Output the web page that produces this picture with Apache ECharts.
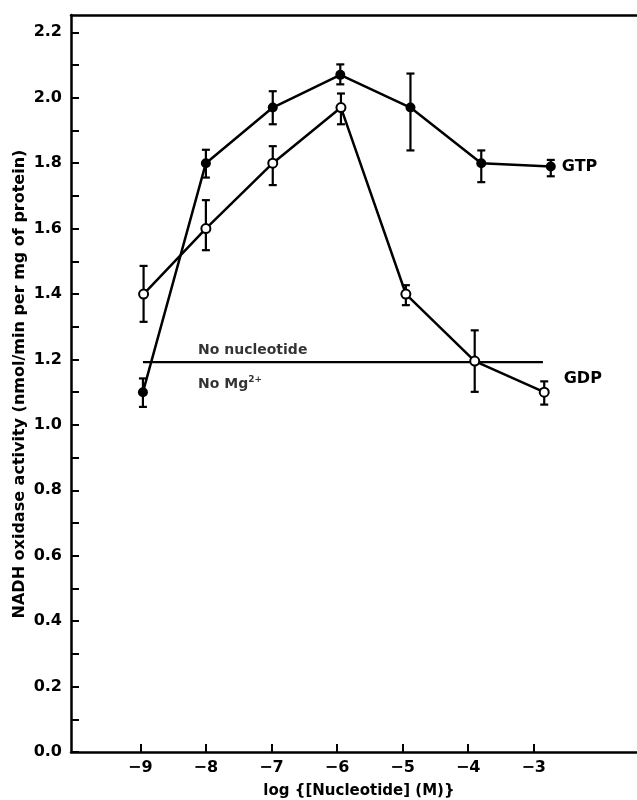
<!DOCTYPE html>
<html>
<head>
<meta charset="utf-8">
<script src="https://cdn.jsdelivr.net/npm/echarts@6/dist/echarts.min.js"></script>
<style>
html,body{margin:0;padding:0;background:#fff;overflow:hidden;}
#chart{width:637px;height:800px;}
</style>
</head>
<body>
<div id="chart"></div>
<script>
// ---- data ----
const xTickValues = [-9, -8, -7, -6, -5, -4, -3];
const yMinorTicks = [0,0.1,0.2,0.3,0.4,0.5,0.6,0.7,0.8,0.9,1.0,1.1,1.2,1.3,1.4,1.5,1.6,1.7,1.8,1.9,2.0,2.1,2.2];
const yLabelValues = [0,0.2,0.4,0.6,0.8,1.0,1.2,1.4,1.6,1.8,2.0,2.2];

const gtpX    = [-8.96, -8.00, -6.98, -5.95, -4.88, -3.80, -2.74];
const gtpY    = [1.10, 1.80, 1.97, 2.07, 1.97, 1.80, 1.79];
const gtpLow  = [1.055, 1.756, 1.919, 2.041, 1.839, 1.742, 1.760];
const gtpHigh = [1.142, 1.841, 2.020, 2.102, 2.074, 1.839, 1.810];

const gdpX    = [-8.95, -8.00, -6.98, -5.94, -4.95, -3.90, -2.84];
const gdpY    = [1.40, 1.60, 1.80, 1.97, 1.40, 1.195, 1.10];
const gdpLow  = [1.315, 1.534, 1.733, 1.919, 1.366, 1.101, 1.062];
const gdpHigh = [1.486, 1.687, 1.852, 2.013, 1.427, 1.289, 1.133];

const baselineX = [-8.96, -2.86];
const baselineY = [1.192, 1.192];

const annotations = [
  {x: -8.12, y: 1.238, text: 'No nucleotide'},
  {x: -8.12, y: 1.132, text: 'No Mg', sup: '2+'}
];

// ---- chart ----
const FONT = 'DejaVu Sans';
const chart = echarts.init(document.getElementById('chart'));

function pts(xs, ys){ return xs.map((x,i)=>[x, ys[i]]); }
function errs(xs, lo, hi){ return xs.map((x,i)=>[x, lo[i], hi[i]]); }

function errRender(params, api){
  const x = api.value(0);
  const p1 = api.coord([x, api.value(1)]);
  const p2 = api.coord([x, api.value(2)]);
  const hw = 4;
  const st = {stroke:'#000', lineWidth:2.2};
  return {type:'group', children:[
    {type:'line', shape:{x1:p1[0],y1:p1[1],x2:p2[0],y2:p2[1]}, style:st},
    {type:'line', shape:{x1:p1[0]-hw,y1:p1[1],x2:p1[0]+hw,y2:p1[1]}, style:st},
    {type:'line', shape:{x1:p2[0]-hw,y1:p2[1],x2:p2[0]+hw,y2:p2[1]}, style:st}
  ]};
}

const gtpData = pts(gtpX, gtpY).map((v,i,a)=> i===a.length-1 ? {
  value: v,
  label: {show:true, position:'right', distance:6, formatter:'GTP',
          fontFamily:FONT, fontWeight:'bold', fontSize:16, color:'#000'}
} : v);
const gdpData = pts(gdpX, gdpY).map((v,i,a)=> i===a.length-1 ? {
  value: v,
  label: {show:true, position:'right', distance:6, offset:[8,-13], formatter:'GDP',
          fontFamily:FONT, fontWeight:'bold', fontSize:16, color:'#000'}
} : v);

chart.setOption({
  animation:false,
  backgroundColor:'#fff',
  grid:{left:71, top:15, right:0, bottom:48},
  xAxis:[{
    type:'value', min:-10.057, max:-1.425,
    axisLine:{show:true, onZero:false, lineStyle:{color:'#000', width:2.5}},
    axisTick:{show:true, inside:true, length:8, lineStyle:{color:'#000', width:2}, customValues:xTickValues},
    axisLabel:{show:true, customValues:xTickValues, margin:8, color:'#000', fontFamily:FONT, fontWeight:'bold', fontSize:16,
      formatter:v=> String(v).replace('-', '\u2212')},
    splitLine:{show:false}
  },{
    type:'value', position:'top', min:-10.057, max:-1.425,
    axisLine:{show:true, onZero:false, lineStyle:{color:'#000', width:2.5}},
    axisTick:{show:false}, axisLabel:{show:false}, splitLine:{show:false}
  }],
  yAxis:{
    type:'value', min:0, max:2.253,
    axisLine:{show:true, onZero:false, lineStyle:{color:'#000', width:2.5}},
    axisTick:{show:true, inside:true, length:8, lineStyle:{color:'#000', width:2}, customValues:yMinorTicks},
    axisLabel:{show:true, customValues:yLabelValues, margin:9, color:'#000', fontFamily:FONT, fontWeight:'bold', fontSize:16,
      formatter:v=> Number(v).toFixed(1)},
    splitLine:{show:false}
  },
  graphic:[
    {type:'text', x:359, y:791,
     style:{text:'log {[Nucleotide] (M)}', font:'bold 15px "DejaVu Sans"', fill:'#000', align:'center', verticalAlign:'middle'}},
    {type:'text', x:20, y:384, rotation:Math.PI/2,
     style:{text:'NADH oxidase activity (nmol/min per mg of protein)', font:'bold 16px "DejaVu Sans"', fill:'#000', align:'center', verticalAlign:'middle'}}
  ],
  series:[
    {type:'line', data:pts(baselineX, baselineY), symbol:'none', lineStyle:{color:'#000', width:2.2}, z:1, silent:true},
    {type:'custom', data:errs(gtpX, gtpLow, gtpHigh), renderItem:errRender, z:2, silent:true},
    {type:'custom', data:errs(gdpX, gdpLow, gdpHigh), renderItem:errRender, z:2, silent:true},
    {type:'line', name:'GTP', data:gtpData, symbol:'circle', symbolSize:10, showAllSymbol:true,
     itemStyle:{color:'#000'}, lineStyle:{color:'#000', width:2.5}, z:3},
    {type:'line', name:'GDP', data:gdpData, symbol:'circle', symbolSize:9, showAllSymbol:true,
     itemStyle:{color:'#fff', borderColor:'#000', borderWidth:2}, lineStyle:{color:'#000', width:2.5}, z:4},
    {type:'scatter', data:annotations.map(a=>({value:[a.x,a.y], text:a.text, sup:a.sup||''})),
     symbolSize:0, silent:true, z:5,
     label:{show:true, position:'right', distance:0, color:'#000', fontFamily:FONT, fontWeight:'bold',
       formatter:p=> p.data.sup ? '{a|'+p.data.text+'}{s|'+p.data.sup+'}' : '{a|'+p.data.text+'}',
       rich:{
         a:{fontSize:14, fontFamily:FONT, fontWeight:'bold', color:'#000', verticalAlign:'bottom', lineHeight:20},
         s:{fontSize:9, fontFamily:FONT, fontWeight:'bold', color:'#000', verticalAlign:'bottom', padding:[0,0,8,0], lineHeight:20}
       }}}
  ]
});
</script>
</body>
</html>
